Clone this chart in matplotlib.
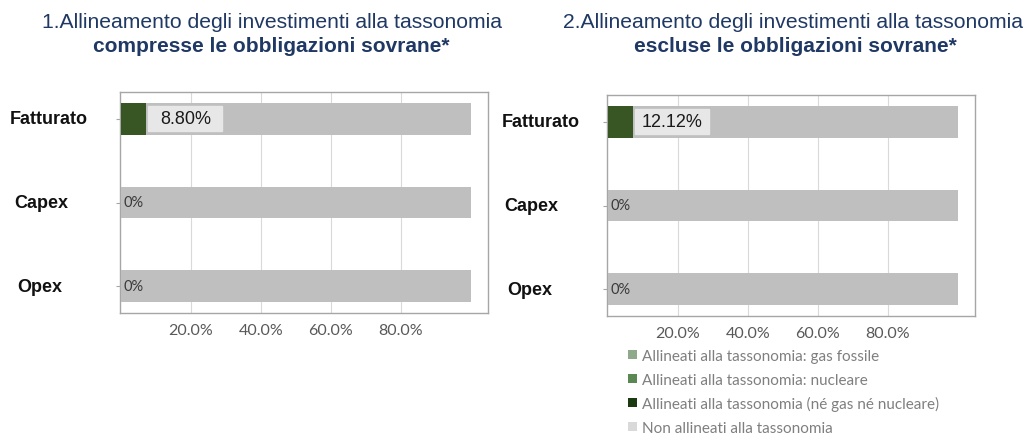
import matplotlib
matplotlib.use("Agg")
import matplotlib.pyplot as plt
from matplotlib.patches import Rectangle, Patch

# ---- data ----
categories = ["Fatturato", "Capex", "Opex"]
aligned_left = [7.0, 0.0, 0.0]        # bar lengths as drawn (%)
aligned_right = [7.0, 0.0, 0.0]
not_aligned_left = [93.0, 100.0, 100.0]
not_aligned_right = [93.0, 100.0, 100.0]
labels_left = ["8.80%", "0%", "0%"]
labels_right = ["12.12%", "0%", "0%"]
xticks = [20, 40, 60, 80]
xtick_labels = ["20.0%", "40.0%", "60.0%", "80.0%"]
legend_labels = ["Allineati alla tassonomia: gas fossile",
                 "Allineati alla tassonomia: nucleare",
                 "Allineati alla tassonomia (né gas né nucleare)",
                 "Non allineati alla tassonomia"]
titles = [("1.Allineamento degli investimenti alla tassonomia",
           "compresse le obbligazioni sovrane*"),
          ("2.Allineamento degli investimenti alla tassonomia",
           "escluse le obbligazioni sovrane*")]

W, H = 1030, 435
GREEN = "#375623"
GRAY = "#bfbfbf"
NAVY = "#1f3864"
legend_colors = ["#8faa8b", "#5b8753", "#1b3a12", "#d9d9d9"]

fig = plt.figure(figsize=(W / 100, H / 100), dpi=100)
fig.patch.set_facecolor("white")


def px_axes(x0, y0, x1, y1):
    return fig.add_axes([x0 / W, 1 - y1 / H, (x1 - x0) / W, (y1 - y0) / H])


def draw(ax, aligned, rest, labels, ylab_x):
    y = list(range(len(categories)))
    ax.barh(y, aligned, height=0.38, color=GREEN, zorder=3)
    ax.barh(y, rest, left=aligned, height=0.38, color=GRAY, zorder=3)
    ax.set_xlim(-0.3, 105)
    ax.set_ylim(2.32, -0.32)
    ax.set_xticks(xticks)
    ax.set_xticklabels(xtick_labels, family="Lato", fontsize=11.5, color="#595959")
    ax.tick_params(axis="x", length=0, pad=7)
    ax.set_yticks(y)
    ax.set_yticklabels([])
    ax.tick_params(axis="y", length=3, color="#a6a6a6", width=0.8)
    ax.grid(axis="x", color="#d9d9d9", lw=0.8, zorder=0)
    for s in ax.spines.values():
        s.set_color("#a6a6a6")
        s.set_linewidth(1.0)
    for i, lab in enumerate(labels):
        if aligned[i] > 0:
            ax.add_patch(Rectangle((7.7, i - 0.15), 21.3, 0.29, color="#e7e7e7", zorder=4))
            ax.text(18.4, i - 0.005, lab, ha="center", va="center", family="Liberation Sans",
                    fontsize=13, color="#1a1a1a", zorder=5)
        else:
            ax.text(0.8, i, lab, ha="left", va="center", family="Lato",
                    fontsize=10.5, color="#3a3a3a", zorder=5)
    # category labels
    for i, c in enumerate(categories):
        ax.annotate(c, xy=(0, i), xycoords=("axes fraction", "data"),
                    xytext=(ylab_x[i], 0), textcoords="offset pixels",
                    ha="left", va="center", family="Liberation Sans",
                    fontweight="bold", fontsize=13, color="#111111")


axL = px_axes(120, 93, 488, 314)
draw(axL, aligned_left, not_aligned_left, labels_left, [-110, -106, -103])
axR = px_axes(607, 96, 975, 317)
draw(axR, aligned_right, not_aligned_right, labels_right, [-105, -103, -100])

# titles
for (l1, l2), c1, c2 in zip(titles, [272, 793], [271, 795]):
    fig.text(c1 / W, 1 - 22 / H, l1, ha="center", va="center", family="Liberation Sans",
             fontsize=15.2, color=NAVY)
    fig.text(c2 / W, 1 - 47 / H, l2, ha="center", va="center",
             family="Liberation Sans", fontweight="bold", fontsize=15, color=NAVY)

# legend
handles = [Patch(facecolor=c, edgecolor="none") for c in legend_colors]
fig.legend(handles, legend_labels, loc="upper left",
           bbox_to_anchor=(622 / W, 1 - 344 / H), frameon=False,
           prop={"family": "Lato", "size": 11}, labelcolor="#7f7f7f",
           handlelength=0.55, handleheight=0.55, handletextpad=0.35,
           labelspacing=0.62, borderaxespad=0)

fig.savefig("out.png", dpi=100, facecolor="white")
